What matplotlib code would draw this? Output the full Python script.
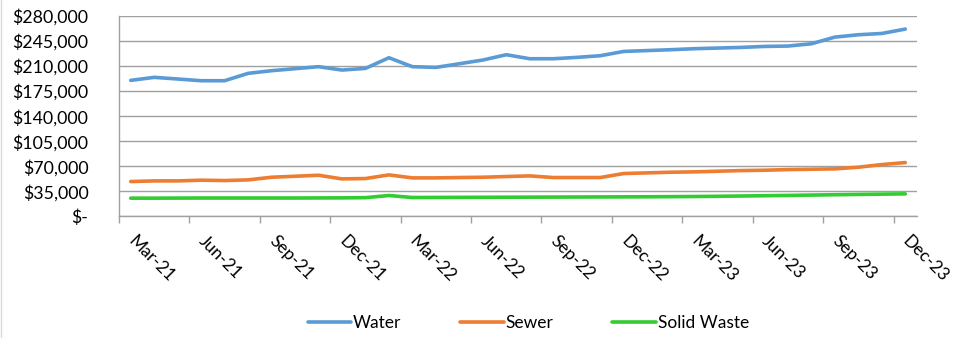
import matplotlib
matplotlib.use("Agg")

import matplotlib.pyplot as plt
from matplotlib.lines import Line2D
from matplotlib.ticker import FuncFormatter, FixedLocator

months = [
    "Mar-21", "Apr-21", "May-21", "Jun-21", "Jul-21", "Aug-21", "Sep-21", "Oct-21", "Nov-21",
    "Dec-21", "Jan-22", "Feb-22", "Mar-22", "Apr-22", "May-22", "Jun-22", "Jul-22", "Aug-22",
    "Sep-22", "Oct-22", "Nov-22", "Dec-22", "Jan-23", "Feb-23", "Mar-23", "Apr-23", "May-23",
    "Jun-23", "Jul-23", "Aug-23", "Sep-23", "Oct-23", "Nov-23", "Dec-23",
]

water = [
    190100, 194300, 192000, 189600, 189600, 199900, 203600, 206400, 209200,
    204500, 206800, 221700, 209200, 208200, 213300, 218500, 225900, 220300,
    220300, 222200, 224500, 230500, 231700, 232900, 234300, 235200, 236100,
    237500, 238000, 241200, 250500, 253800, 255600, 261700,
]

sewer = [
    48800, 49700, 49700, 50700, 50200, 51100, 54800, 56200, 57600,
    52500, 53000, 58100, 53900, 53900, 54400, 54800, 55800, 56700,
    54400, 54400, 54400, 60000, 60900, 61800, 62300, 63200, 64100,
    64600, 65500, 66000, 66500, 68800, 72500, 75300,
]

solid_waste = [
    25600, 25600, 25700, 25800, 25800, 25800, 25800, 25800, 25900,
    26000, 26300, 29300, 26500, 26600, 26700, 26800, 26900, 27000,
    27100, 27200, 27300, 27400, 27500, 27700, 27900, 28200, 28600,
    29000, 29400, 29900, 30400, 30800, 31200, 31600,
]

y_ticks = [0, 35000, 70000, 105000, 140000, 175000, 210000, 245000, 280000]

plt.rcParams["font.family"] = ["Lato", "DejaVu Sans"]

fig = plt.figure(figsize=(9.66, 3.38), dpi=100)
ax = fig.add_axes([0.1232, 0.3595, 0.8261, 0.5932])

x = list(range(len(months)))
ax.plot(x, water, color="#5B9BD5", lw=2.6, label="Water", solid_capstyle="round")
ax.plot(x, sewer, color="#ED7D31", lw=2.6, label="Sewer", solid_capstyle="round")
ax.plot(x, solid_waste, color="#33CC33", lw=2.6, label="Solid Waste", solid_capstyle="round")

ax.set_xlim(-0.5, len(months) - 0.5)
ax.set_ylim(0, 280000)
ax.set_yticks(y_ticks)
ax.yaxis.set_major_formatter(FuncFormatter(lambda v, p: "$-" if v == 0 else f"${v:,.0f}"))
ax.grid(axis="y", color="#A0A0A0", lw=1.0)
ax.set_axisbelow(True)

# category ticks every 3 months, labels at category centres
label_pos = x[::3]
ax.set_xticks(label_pos)
ax.set_xticklabels([months[i] for i in label_pos], rotation=-45, ha="left", va="center",
                   rotation_mode="anchor", fontsize=12.5)
ax.tick_params(axis="x", which="major", length=0, pad=16)
ax.xaxis.set_minor_locator(FixedLocator([p - 0.5 for p in label_pos]))
ax.tick_params(axis="x", which="minor", length=5, color="#A0A0A0", width=1)
ax.tick_params(axis="y", length=0, labelsize=12.8, pad=22)

for s in ["top", "right"]:
    ax.spines[s].set_visible(False)
for s in ["left", "bottom"]:
    ax.spines[s].set_color("#A0A0A0")
    ax.spines[s].set_linewidth(1.0)

fig.legend(loc="center", bbox_to_anchor=(0.547, 0.043), ncol=3, frameon=False,
           fontsize=12.5, handlelength=2.5, handletextpad=0.1, columnspacing=3.4)

fig.add_artist(Line2D([0.001, 0.001], [0, 1], transform=fig.transFigure, color="#D9D9D9", lw=1))

fig.savefig("out.png", dpi=100)
